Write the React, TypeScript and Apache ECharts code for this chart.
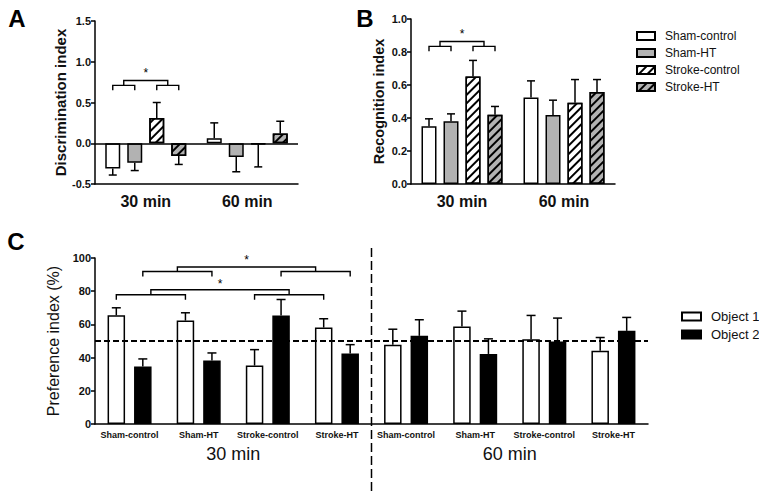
import React, { useEffect, useRef } from "react";
import * as echarts from "echarts";

// ---------- data ----------
const groupsAB = ["Sham-control", "Sham-HT", "Stroke-control", "Stroke-HT"];
const timeCats = ["30 min", "60 min"];

// Panel A: discrimination index, values for [30 min, 60 min]
const discShamControl = [-0.31, 0.06];
const discShamHT = [-0.24, -0.17];
const discStrokeControl = [0.31, -0.01];
const discStrokeHT = [-0.155, 0.12];
const discErrShamControl = [0.08, 0.19];
const discErrShamHT = [0.095, 0.18];
const discErrStrokeControl = [0.19, 0.28];
const discErrStrokeHT = [0.105, 0.15];

// Panel B: recognition index
const recShamControl = [0.35, 0.525];
const recShamHT = [0.38, 0.418];
const recStrokeControl = [0.652, 0.493];
const recStrokeHT = [0.42, 0.558];
const recErrShamControl = [0.045, 0.1];
const recErrShamHT = [0.045, 0.09];
const recErrStrokeControl = [0.097, 0.14];
const recErrStrokeHT = [0.05, 0.075];

// Panel C: preference index (%)
const prefCats = [
  "Sham-control", "Sham-HT", "Stroke-control", "Stroke-HT",
  "Sham-control", "Sham-HT", "Stroke-control", "Stroke-HT",
];
const objectNames = ["Object 1", "Object 2"];
const object1 = [65.5, 62.3, 35.2, 58.1, 47.7, 58.7, 51.1, 44.2];
const object2 = [34.6, 38.2, 65.4, 42.5, 53.1, 42.2, 49.7, 56.1];
const object1Err = [4.5, 4.7, 9.6, 5.3, 9.4, 9.3, 14.3, 7.9];
const object2Err = [4.6, 4.6, 9.6, 5.3, 9.7, 9.1, 14.1, 8.1];
const chanceLevel = 50;

// significance brackets: [category, bar index] pairs
const bracketsA = [
  { pairs: [[[0, 0], [0, 1]], [[0, 2], [0, 3]]], low: 0.71, leg: 0.65, high: 0.77, star: 0.86 },
];
const bracketsB = [
  { pairs: [[[0, 0], [0, 1]], [[0, 2], [0, 3]]], low: 0.834, leg: 0.804, high: 0.864, star: 0.91 },
];
const bracketsC = [
  { pairs: [[[0, 1], [1, 1]], [[2, 1], [3, 1]]], low: 91.9, leg: 88.9, high: 94.6, star: 98.5 },
  { pairs: [[[0, 0], [1, 0]], [[2, 0], [3, 0]]], low: 77.9, leg: 74.8, high: 80.9, star: 84.6 },
];

// ---------- styling helpers ----------
const FONT = "'Liberation Sans', Arial, Helvetica, sans-serif";
const GRAY = "#b2b2b2";
const hatch = {
  symbol: "rect",
  symbolSize: 1,
  dashArrayX: [1, 0],
  dashArrayY: [1.3, 3.6],
  rotation: -Math.PI / 4,
  color: "#000",
};
function groupStyle(i: number) {
  const base: any = {
    color: i % 2 === 0 ? "#ffffff" : GRAY,
    borderColor: "#000",
    borderWidth: 1.5,
  };
  if (i >= 2) base.decal = hatch;
  return base;
}

function barX(api: any, cat: number, idx: number, n: number, bw: number, gap: number) {
  return api.coord([cat, 0])[0] + (idx - (n - 1) / 2) * (bw + gap);
}

function errRender(n: number, bw: number, gap: number, capHalf: number) {
  return (params: any, api: any) => {
    const c = api.value(0);
    const v = api.value(1);
    const e = api.value(2);
    const s = api.value(3);
    const dir = v < 0 ? -1 : 1;
    const p0 = api.coord([c, v]);
    const p1 = api.coord([c, v + dir * e]);
    const x = barX(api, c, s, n, bw, gap);
    const st = { stroke: "#000", lineWidth: 1.5 };
    return {
      type: "group",
      children: [
        { type: "line", shape: { x1: x, y1: p0[1], x2: x, y2: p1[1] }, style: st },
        { type: "line", shape: { x1: x - capHalf, y1: p1[1], x2: x + capHalf, y2: p1[1] }, style: st },
      ],
    };
  };
}

function bracketRender(specs: any[], n: number, bw: number, gap: number) {
  return (params: any, api: any) => {
    const children: any[] = [];
    const st = { stroke: "#000", lineWidth: 1.4, fill: "none" };
    specs.forEach((sp) => {
      const yLow = api.coord([0, sp.low])[1];
      const yLeg = api.coord([0, sp.leg])[1];
      const yHigh = api.coord([0, sp.high])[1];
      const yStar = api.coord([0, sp.star])[1];
      const mids: number[] = [];
      sp.pairs.forEach((pair: number[][]) => {
        const xl = barX(api, pair[0][0], pair[0][1], n, bw, gap);
        const xr = barX(api, pair[1][0], pair[1][1], n, bw, gap);
        children.push({
          type: "polyline",
          shape: { points: [[xl, yLeg], [xl, yLow], [xr, yLow], [xr, yLeg]] },
          style: st,
        });
        mids.push((xl + xr) / 2);
      });
      children.push({
        type: "polyline",
        shape: { points: [[mids[0], yLow], [mids[0], yHigh], [mids[1], yHigh], [mids[1], yLow]] },
        style: st,
      });
      children.push({
        type: "text",
        x: (mids[0] + mids[1]) / 2,
        y: yStar,
        style: { text: "*", fontSize: 12, fontFamily: FONT, fill: "#000", align: "center", verticalAlign: "middle" },
      });
    });
    return { type: "group", children };
  };
}

function errData(vals: number[][], errs: number[][]) {
  const out: number[][] = [];
  vals.forEach((arr, s) => arr.forEach((v, c) => out.push([c, v, errs[s][c], s])));
  return out;
}

const axisLineStyle = { lineStyle: { color: "#000", width: 1.5 } };

export default function App() {
  const ref = useRef<HTMLDivElement>(null);
  useEffect(() => {
    if (!ref.current) return;
    const chart = echarts.init(ref.current, undefined, { renderer: "svg" });

    const discVals = [discShamControl, discShamHT, discStrokeControl, discStrokeHT];
    const discErrs = [discErrShamControl, discErrShamHT, discErrStrokeControl, discErrStrokeHT];
    const recVals = [recShamControl, recShamHT, recStrokeControl, recStrokeHT];
    const recErrs = [recErrShamControl, recErrShamHT, recErrStrokeControl, recErrStrokeHT];
    const prefVals = [object1, object2];
    const prefErrs = [object1Err, object2Err];

    const BW_AB = 15, GAP_AB = 7;
    const BW_C = 17.5, GAP_C = 9;

    const yAxisCommon = (name: string, gap: number, nameSize: number, nameWeight: any) => ({
      type: "value",
      name,
      nameLocation: "middle",
      nameGap: gap,
      nameTextStyle: { fontSize: nameSize, fontWeight: nameWeight, color: "#111", fontFamily: FONT },
      axisLine: { show: true, ...axisLineStyle },
      axisTick: { show: true, length: 4, lineStyle: { color: "#000", width: 1.5 } },
      splitLine: { show: false },
      axisLabel: { fontSize: 11, fontWeight: "bold", color: "#111", margin: 4, fontFamily: FONT },
    });

    const series: any[] = [];
    groupsAB.forEach((g, i) => {
      series.push({
        type: "bar", name: g, xAxisIndex: 0, yAxisIndex: 0,
        data: discVals[i], barWidth: BW_AB, barGap: (GAP_AB / BW_AB) * 100 + "%",
        itemStyle: groupStyle(i), z: 2,
        ...(i === 0
          ? {
              markLine: {
                silent: true, symbol: ["none", "none"], label: { show: false },
                lineStyle: { color: "#000", width: 1.5, type: "solid" },
                data: [{ yAxis: 0 }],
              },
            }
          : {}),
      });
    });
    groupsAB.forEach((g, i) => {
      series.push({
        type: "bar", name: g, xAxisIndex: 1, yAxisIndex: 1,
        data: recVals[i], barWidth: BW_AB, barGap: (GAP_AB / BW_AB) * 100 + "%",
        itemStyle: groupStyle(i), z: 2,
      });
    });
    objectNames.forEach((g, i) => {
      series.push({
        type: "bar", name: g, xAxisIndex: 2, yAxisIndex: 2,
        data: prefVals[i], barWidth: BW_C, barGap: (GAP_C / BW_C) * 100 + "%",
        itemStyle: { color: i === 0 ? "#fff" : "#000", borderColor: "#000", borderWidth: 1.5 },
        z: 2,
        ...(i === 0
          ? {
              markLine: {
                silent: true, symbol: ["none", "none"], label: { show: false },
                lineStyle: { color: "#000", width: 1.8, type: [6, 3] },
                data: [{ yAxis: chanceLevel }],
              },
            }
          : {}),
      });
    });
    series.push({
      type: "custom", name: "errA", xAxisIndex: 0, yAxisIndex: 0, z: 3, clip: false,
      renderItem: errRender(4, BW_AB, GAP_AB, 4), encode: { x: 0, y: 1 },
      data: errData(discVals, discErrs),
    });
    series.push({
      type: "custom", name: "errB", xAxisIndex: 1, yAxisIndex: 1, z: 3, clip: false,
      renderItem: errRender(4, BW_AB, GAP_AB, 4), encode: { x: 0, y: 1 },
      data: errData(recVals, recErrs),
    });
    series.push({
      type: "custom", name: "errC", xAxisIndex: 2, yAxisIndex: 2, z: 3, clip: false,
      renderItem: errRender(2, BW_C, GAP_C, 4.5), encode: { x: 0, y: 1 },
      data: errData(prefVals, prefErrs),
    });
    series.push({
      type: "custom", name: "sigA", xAxisIndex: 0, yAxisIndex: 0, z: 3, clip: false,
      renderItem: bracketRender(bracketsA, 4, BW_AB, GAP_AB), encode: { x: 0, y: 1 },
      data: [[0, 0]],
    });
    series.push({
      type: "custom", name: "sigB", xAxisIndex: 1, yAxisIndex: 1, z: 3, clip: false,
      renderItem: bracketRender(bracketsB, 4, BW_AB, GAP_AB), encode: { x: 0, y: 1 },
      data: [[0, 0]],
    });
    series.push({
      type: "custom", name: "sigC", xAxisIndex: 2, yAxisIndex: 2, z: 3, clip: false,
      renderItem: bracketRender(bracketsC, 2, BW_C, GAP_C), encode: { x: 0, y: 1 },
      data: [[0, 0]],
    });

    const option: any = {
      animation: false,
      backgroundColor: "#fff",
      textStyle: { fontFamily: FONT },
      grid: [
        { left: 95, top: 21, width: 203, height: 163 },
        { left: 411, top: 19, width: 204, height: 165 },
        { left: 95, top: 258, width: 553, height: 166 },
      ],
      legend: [
        {
          data: groupsAB, orient: "vertical", left: 631, top: 25,
          itemWidth: 18, itemHeight: 8, itemGap: 5, icon: "rect", selectedMode: false,
          textStyle: { fontSize: 12, color: "#111", fontFamily: FONT, padding: [0, 0, 0, 5] },
        },
        {
          data: objectNames, orient: "vertical", left: 676, top: 305,
          itemWidth: 19, itemHeight: 8, itemGap: 5, icon: "rect", selectedMode: false,
          textStyle: { fontSize: 13, color: "#111", fontFamily: FONT, padding: [0, 0, 0, 5] },
        },
      ],
      xAxis: [
        {
          type: "category", gridIndex: 0, data: timeCats,
          axisLine: { onZero: false, ...axisLineStyle }, axisTick: { show: false },
          axisLabel: { fontSize: 16, fontWeight: "bold", color: "#111", margin: 9 },
        },
        {
          type: "category", gridIndex: 1, data: timeCats,
          axisLine: { onZero: false, ...axisLineStyle }, axisTick: { show: false },
          axisLabel: { fontSize: 16, fontWeight: "bold", color: "#111", margin: 9 },
        },
        {
          type: "category", gridIndex: 2, data: prefCats, position: "bottom",
          axisLine: { onZero: false, ...axisLineStyle }, axisTick: { show: false },
          axisLabel: { fontSize: 9, fontWeight: "bold", color: "#111", margin: 6, interval: 0 },
        },
        {
          type: "category", gridIndex: 2, data: timeCats, position: "bottom",
          axisLine: { show: false }, axisTick: { show: false },
          axisLabel: { fontSize: 18, color: "#111", margin: 21 },
        },
      ],
      yAxis: [
        {
          ...yAxisCommon("Discrimination index", 27, 15, "bold"),
          gridIndex: 0, min: -0.5, max: 1.5, interval: 0.5,
          axisLabel: { ...yAxisCommon("", 0, 14, "bold").axisLabel, formatter: (v: number) => v.toFixed(1) },
        },
        {
          ...yAxisCommon("Recognition index", 25, 14.5, "bold"),
          gridIndex: 1, min: 0, max: 1, interval: 0.2,
          axisLabel: { ...yAxisCommon("", 0, 14, "bold").axisLabel, formatter: (v: number) => v.toFixed(1) },
        },
        {
          ...yAxisCommon("Preference index (%)", 31, 16, "normal"),
          gridIndex: 2, min: 0, max: 100, interval: 20,
        },
      ],
      graphic: [
        { type: "text", x: 17, y: 18, style: { text: "A", fontSize: 24, fontWeight: "bold", fontFamily: FONT, fill: "#000", align: "center", verticalAlign: "middle" } },
        { type: "text", x: 365, y: 18, style: { text: "B", fontSize: 24, fontWeight: "bold", fontFamily: FONT, fill: "#000", align: "center", verticalAlign: "middle" } },
        { type: "text", x: 16, y: 241, style: { text: "C", fontSize: 24, fontWeight: "bold", fontFamily: FONT, fill: "#000", align: "center", verticalAlign: "middle" } },
        {
          type: "line", shape: { x1: 371.5, y1: 248, x2: 371.5, y2: 495 },
          style: { stroke: "#000", lineWidth: 1.5, lineDash: [9, 4] },
        },
      ],
      series,
    };
    chart.setOption(option);
    return () => chart.dispose();
  }, []);
  return (
    <div
      ref={ref}
      style={{ position: "fixed", left: 0, top: 0, width: 759, height: 495, background: "#fff" }}
    />
  );
}
